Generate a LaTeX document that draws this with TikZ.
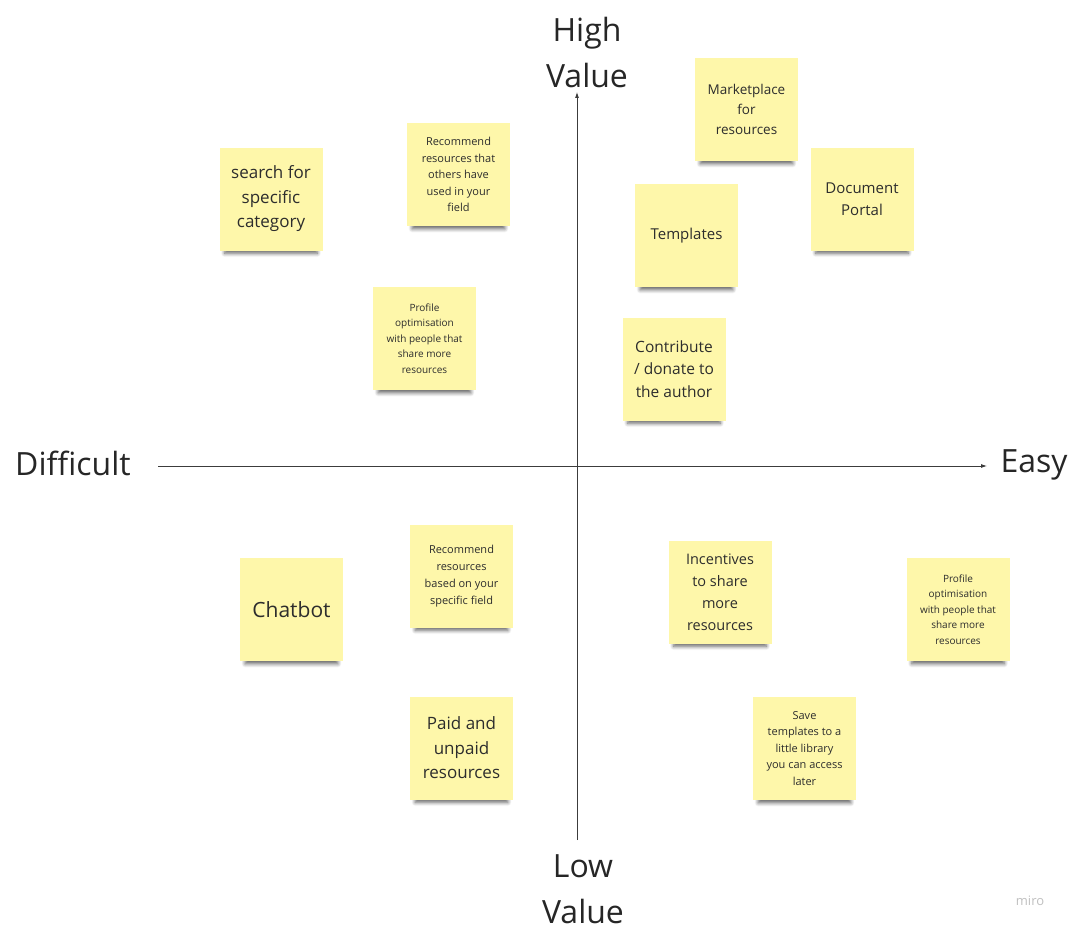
\documentclass[tikz,border=0pt]{standalone}
\usepackage{fontspec}
\setmainfont{Open Sans}
\usetikzlibrary{arrows.meta,shadows.blur}
\definecolor{noteyellow}{RGB}{254,247,170}
\definecolor{notetext}{RGB}{45,45,45}
\definecolor{axisgray}{RGB}{60,60,60}
\newcommand{\fs}[2]{\fontsize{#1}{#2}\selectfont}
\tikzset{
  note/.style={fill=noteyellow, minimum width=103pt, minimum height=103pt,
    inner sep=2pt, align=center, text=notetext,
    blur shadow={shadow xshift=0pt, shadow yshift=-9pt, shadow scale=0.9,
      shadow opacity=60, shadow blur radius=4pt, shadow blur steps=8}},
  axislabel/.style={align=center, text=black!85, font=\fs{32}{46}}
}
\begin{document}
\begin{tikzpicture}[x=1pt,y=-1pt]
      \useasboundingbox (0,0) rectangle (1073,931);
      % axes
      \coordinate (left) at (158,466);
      \coordinate (right) at (987,466);
      \coordinate (bottom) at (577,840);
      \coordinate (top) at (577,92);
      \draw[axisgray, line width=0.8pt, -{Latex[length=6pt,width=4pt]}] (left) -- (right);
      \draw[axisgray, line width=0.8pt, -{Latex[length=6pt,width=4pt]}] (bottom) -- (top);
      \node[axislabel] (high) at (587,53) {High\\Value};
      \node[axislabel] (low) at (583,889) {Low\\Value};
      \node[axislabel] (difficult) at (73,463) {Difficult};
      \node[axislabel] (easy) at (1034,465) {Easy};
      % notes, high value / difficult
      \node[note, font=\fs{17}{24.5}] (search) at (271,199) {search for\\specific\\category};
      \node[note, font=\fs{11}{16.5}] (recothers) at (458.5,174.5) {Recommend\\resources that\\others have\\used in your\\field};
      \node[note, font=\fs{10}{15.5}] (profileL) at (424.5,338.5) {Profile\\optimisation\\with people that\\share more\\resources};
      % notes, high value / easy
      \node[note, font=\fs{13.5}{20}] (market) at (746.5,109.5) {Marketplace\\for\\resources};
      \node[note, font=\fs{15}{22}] (docportal) at (862,199) {Document\\Portal};
      \node[note, font=\fs{15}{22}] (templates) at (686.5,235.5) {Templates};
      \node[note, font=\fs{15.5}{22.5}] (donate) at (674,369) {Contribute\\/ donate to\\the author};
      % notes, low value / difficult
      \node[note, font=\fs{21}{26}] (chatbot) at (291.5,609.5) {Chatbot};
      \node[note, font=\fs{11}{17}] (recfield) at (461.5,576) {Recommend\\resources\\based on your\\specific field};
      \node[note, font=\fs{17}{24.5}] (paid) at (461.5,748) {Paid and\\unpaid\\resources};
      % notes, low value / easy
      \node[note, font=\fs{14.5}{22}] (incentives) at (720,592) {Incentives\\to share\\more\\resources};
      \node[note, font=\fs{10}{15.5}] (profileR) at (958,609.5) {Profile\\optimisation\\with people that\\share more\\resources};
      \node[note, font=\fs{11}{16.5}] (library) at (804.5,748.5) {Save\\templates to a\\little library\\you can access\\later};
      \node[text=black!25, font=\fs{13}{15}] (miro) at (1030,901) {miro};
    \end{tikzpicture}
\end{document}
